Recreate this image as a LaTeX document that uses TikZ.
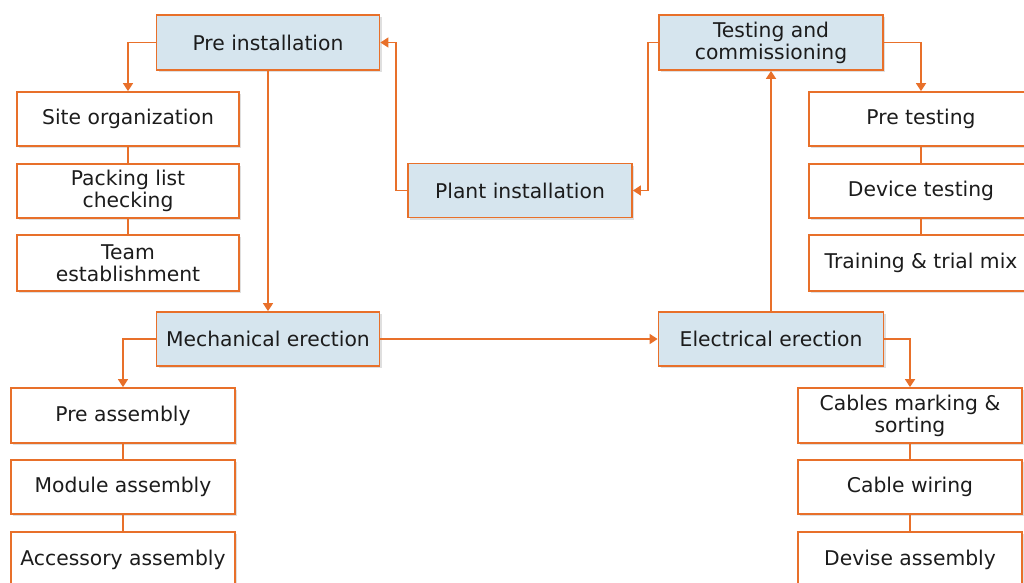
\documentclass[tikz,border=0pt]{standalone}
\usepackage{fontspec}
\setmainfont{DejaVu Sans}
\usetikzlibrary{arrows.meta,shadows}
\definecolor{borderor}{HTML}{E8702A}
\definecolor{mainfill}{HTML}{D6E5EE}
\definecolor{txt}{HTML}{1C1C1C}
\tikzset{
  box/.style={draw=borderor, line width=1.8pt, rectangle, inner sep=0pt,
    minimum width=223pt, minimum height=55pt, align=center, text=txt,
    font=\fontsize{20.3}{22}\selectfont, fill=white,
    drop shadow={opacity=0.25, shadow xshift=2pt, shadow yshift=-2pt}},
  mainbox/.style={box, fill=mainfill},
  conn/.style={draw=borderor, line width=1.7pt},
  arr/.style={conn, -{Triangle[length=8pt,width=10pt]}}
}
\begin{document}
\begin{tikzpicture}[x=1pt,y=-1pt]
\useasboundingbox (0,0) rectangle (1024,582);
\clip (0,0) rectangle (1024,582);
% main boxes
\node[mainbox] (pre) at (268,42.5) {Pre installation};
\node[mainbox, minimum width=224pt] (test) at (771,42.5) {Testing and\\commissioning};
\node[mainbox, minimum width=224pt, minimum height=54pt] (plant) at (520,190.5) {Plant installation};
\node[mainbox, minimum height=54pt] (mech) at (268,339) {Mechanical erection};
\node[mainbox, minimum width=225pt, minimum height=54pt] (elec) at (771,339) {Electrical erection};
% left top stack
\node[box, minimum width=222pt, minimum height=54pt] (site) at (128,119) {Site organization};
\node[box, minimum width=222pt, minimum height=54pt] (pack) at (128,191) {Packing list\\checking};
\node[box, minimum width=222pt, minimum height=56pt] (team) at (128,263) {Team\\establishment};
% right top stack
\node[box, minimum width=224pt, minimum height=54pt] (pret) at (921,119) {Pre testing};
\node[box, minimum width=224pt, minimum height=54pt] (dev) at (921,191) {Device testing};
\node[box, minimum width=224pt, minimum height=56pt] (train) at (921,263) {Training \& trial mix};
% left bottom stack
\node[box, minimum width=224pt] (pasm) at (123,415.5) {Pre assembly};
\node[box, minimum width=224pt, minimum height=54pt] (masm) at (123,487) {Module assembly};
\node[box, minimum width=224pt] (aasm) at (123,559.5) {Accessory assembly};
% right bottom stack
\node[box, minimum width=224pt] (cab) at (910,415.5) {Cables marking \&\\sorting};
\node[box, minimum width=224pt, minimum height=54pt] (wir) at (910,487) {Cable wiring};
\node[box, minimum width=224pt] (dasm) at (910,559.5) {Devise assembly};
% connectors
\draw[arr] (pre.west) -| (site.north);
\draw[conn] (site.south) -- (pack.north);
\draw[conn] (pack.south) -- (team.north);
\draw[arr] (plant.west) -- ++(-11,0) |- (pre.east);
\draw[arr] (test.west) -- ++(-10,0) |- (plant.east);
\draw[arr] (test.east) -| (pret.north);
\draw[conn] (pret.south) -- (dev.north);
\draw[conn] (dev.south) -- (train.north);
\draw[arr] (pre.south) -- (mech.north);
\draw[arr] (mech.west) -| (pasm.north);
\draw[conn] (pasm.south) -- (masm.north);
\draw[conn] (masm.south) -- (aasm.north);
\draw[arr] (mech.east) -- (elec.west);
\draw[arr] (elec.north) -- (test.south);
\draw[arr] (elec.east) -| (cab.north);
\draw[conn] (cab.south) -- (wir.north);
\draw[conn] (wir.south) -- (dasm.north);
\end{tikzpicture}
\end{document}
